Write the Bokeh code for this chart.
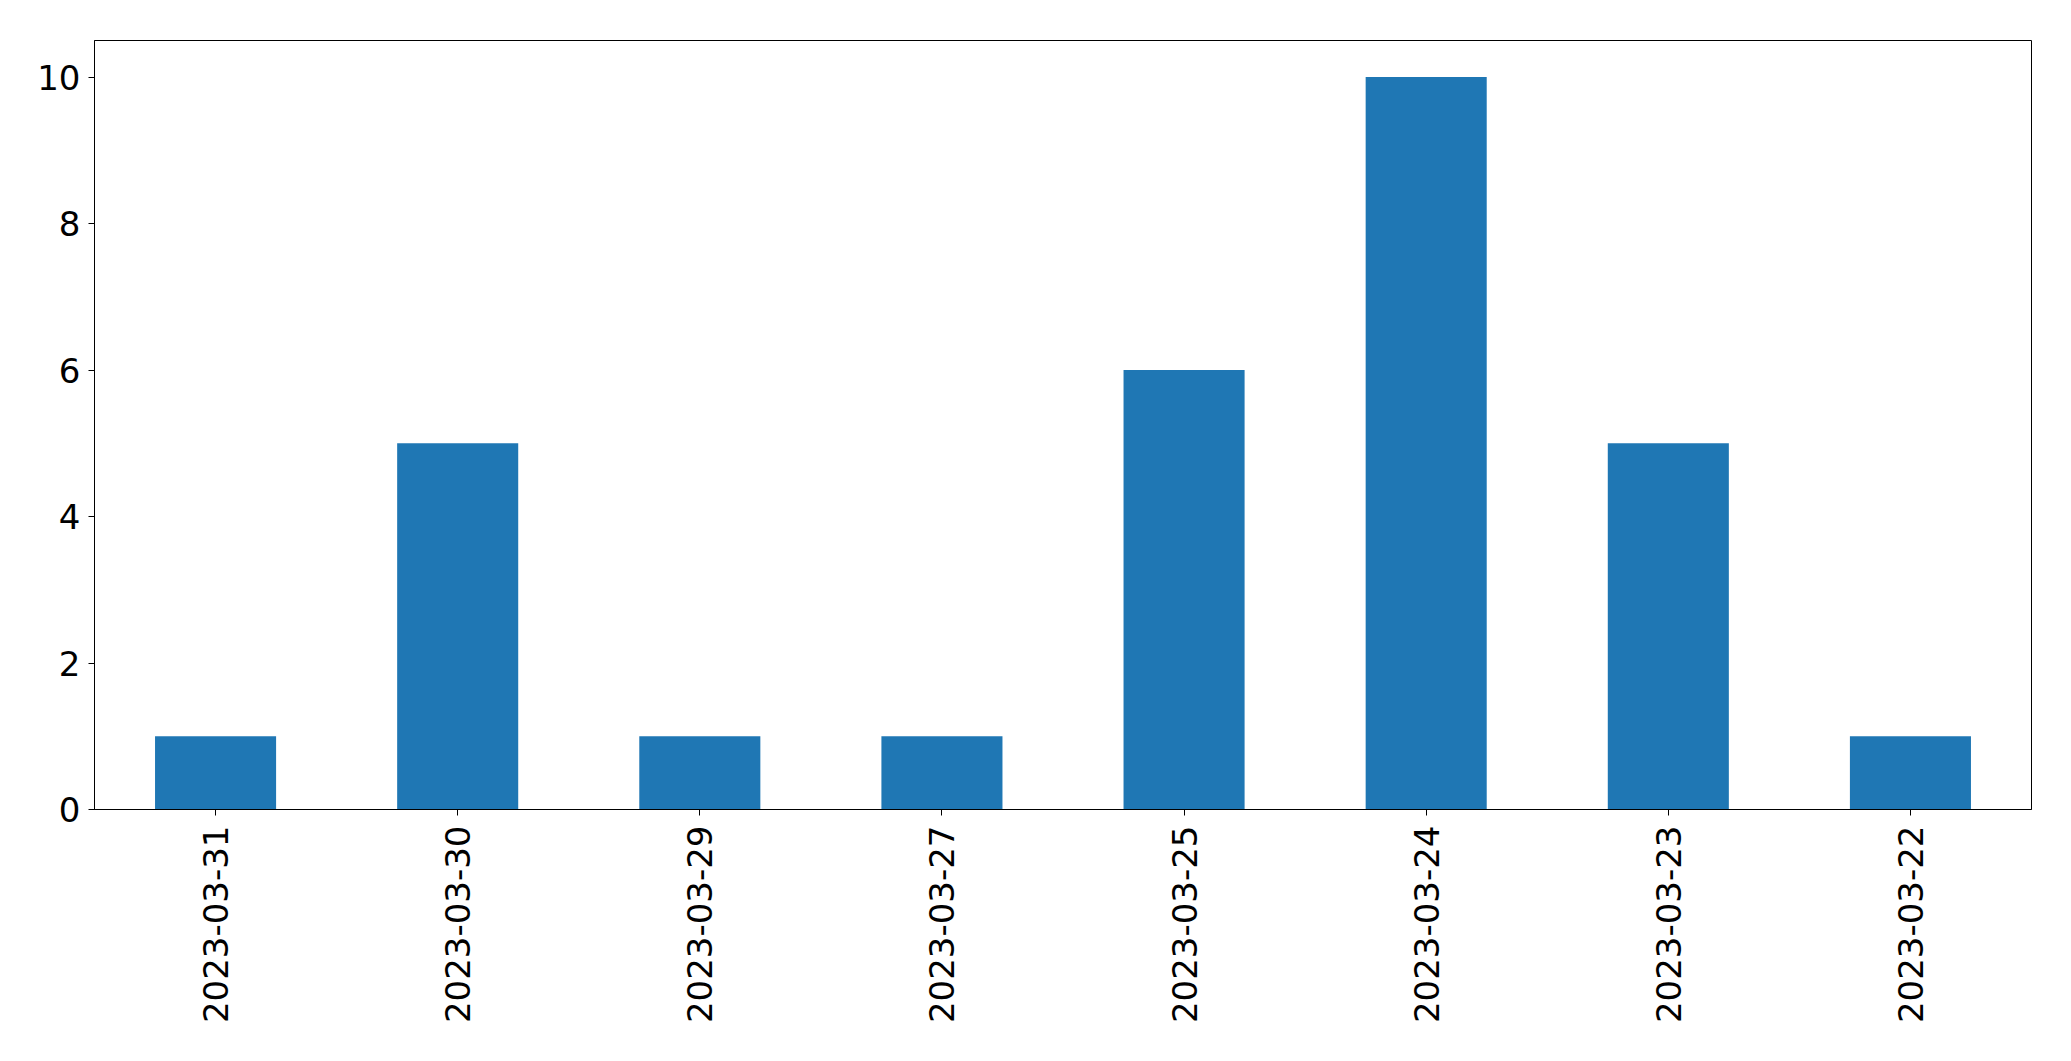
import math
from bokeh.plotting import figure
from bokeh.models import FactorRange, Range1d, FixedTicker, ColumnDataSource
from bokeh.embed import file_html
from bokeh.resources import INLINE

dates = ["2023-03-31", "2023-03-30", "2023-03-29", "2023-03-27",
         "2023-03-25", "2023-03-24", "2023-03-23", "2023-03-22"]
counts = [1, 5, 1, 1, 6, 10, 5, 1]
y_ticks = [0, 2, 4, 6, 8, 10]

src = ColumnDataSource(dict(x=dates, top=counts))

p = figure(x_range=FactorRange(factors=dates, range_padding=0),
           y_range=Range1d(0, 10.5),
           width=2063, height=1053, output_backend="svg",
           toolbar_location=None,
           min_border_left=94, min_border_top=40, min_border_right=32,
           min_border_bottom=244)
p.vbar(x="x", top="top", width=0.5, source=src, color="#1f77b4", line_color=None)

p.xgrid.visible = False
p.ygrid.visible = False
p.outline_line_color = "black"
p.outline_line_width = 1
p.outline_line_alpha = 1

for ax in (p.xaxis[0], p.yaxis[0]):
    ax.axis_line_color = "black"
    ax.major_tick_line_color = "black"
    ax.major_tick_out = 6
    ax.major_tick_in = 0
    ax.minor_tick_line_color = None
    ax.major_label_text_font = "DejaVu Sans"
    ax.major_label_text_font_size = "34px"
    ax.major_label_text_color = "black"

p.yaxis[0].ticker = FixedTicker(ticks=y_ticks)
p.yaxis[0].major_label_standoff = 8
p.xaxis[0].major_label_orientation = math.pi / 2
p.xaxis[0].major_label_standoff = 10

open("out.html", "w").write(file_html(p, INLINE))
